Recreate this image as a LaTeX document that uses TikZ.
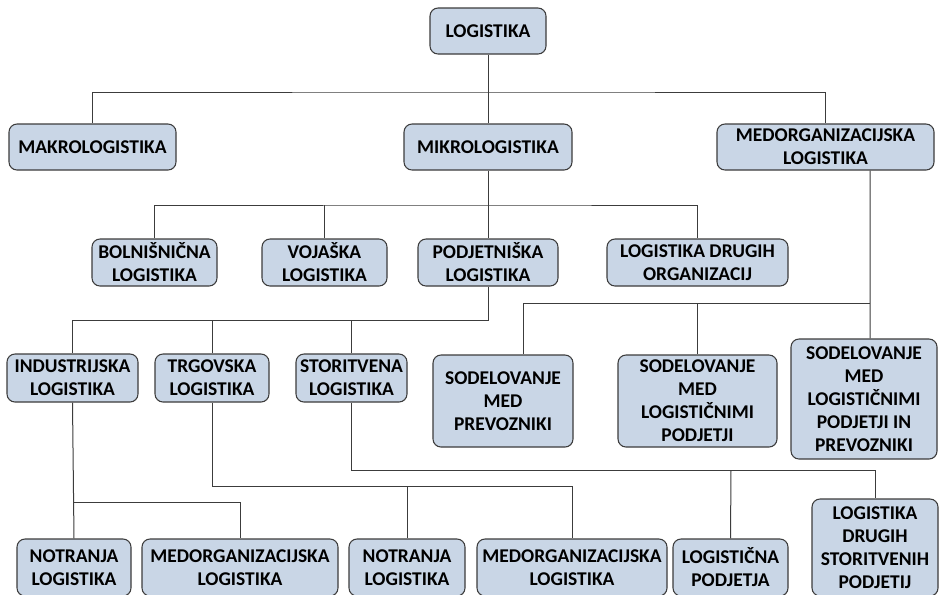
\documentclass[tikz,border=0pt]{standalone}
\usepackage{fontspec}
\setmainfont{Carlito}
\definecolor{boxfill}{RGB}{201,214,230}
\definecolor{edgec}{RGB}{60,60,60}
\tikzset{
  box/.style={draw=edgec, fill=boxfill, rounded corners=6pt, line width=0.8pt,
    align=center, inner sep=0pt, font=\fontsize{14.6}{17.3}\selectfont\bfseries},
  link/.style={draw=edgec, line width=0.75pt}
}
\newcommand\bx[6]{\node[box, minimum width={#4*0.75pt}, minimum height={#5*0.75pt}] (#1) at (#2,#3) {#6};}
\begin{document}
\begin{tikzpicture}[x=0.75pt,y=-0.75pt]
\useasboundingbox (0,0) rectangle (939,594);
\clip (0,0) rectangle (939,594);
\fill[white] (0,0) rectangle (939,594);
% level 0/1
\bx{log}{488}{31}{116}{46}{LOGISTIKA}
\bx{makro}{92.5}{147}{167}{46}{MAKROLOGISTIKA}
\bx{mikro}{488}{147}{168}{46}{MIKROLOGISTIKA}
\bx{medorg}{825.5}{147}{217}{46}{MEDORGANIZACIJSKA\\LOGISTIKA}
% level 2
\bx{bolnis}{154.5}{262.5}{125}{47}{BOLNIŠNIČNA\\LOGISTIKA}
\bx{vojaska}{324.5}{262.5}{125}{47}{VOJAŠKA\\LOGISTIKA}
\bx{podj}{488}{262.5}{140}{47}{PODJETNIŠKA\\LOGISTIKA}
\bx{ldo}{697.5}{262.5}{181}{47}{LOGISTIKA DRUGIH\\ORGANIZACIJ}
% level 3
\bx{indus}{72.5}{378}{131}{48}{INDUSTRIJSKA\\LOGISTIKA}
\bx{trg}{212}{378}{114}{48}{TRGOVSKA\\LOGISTIKA}
\bx{stor}{351.5}{378}{111}{48}{STORITVENA\\LOGISTIKA}
\bx{sodprev}{503}{401}{140}{92}{SODELOVANJE\\MED\\PREVOZNIKI}
\bx{sodlog}{697.5}{401}{159}{92}{SODELOVANJE\\MED\\LOGISTIČNIMI\\PODJETJI}
\bx{sodlogprev}{864}{399}{146}{120}{SODELOVANJE\\MED\\LOGISTIČNIMI\\PODJETJI IN\\PREVOZNIKI}
% level 4
\bx{notr1}{74}{567.5}{114}{57}{NOTRANJA\\LOGISTIKA}
\bx{medorg1}{240}{567.5}{196}{57}{MEDORGANIZACIJSKA\\LOGISTIKA}
\bx{notr2}{407}{567.5}{116}{57}{NOTRANJA\\LOGISTIKA}
\bx{medorg2}{572}{567.5}{190}{57}{MEDORGANIZACIJSKA\\LOGISTIKA}
\bx{logpodj}{730.5}{567.5}{115}{57}{LOGISTIČNA\\PODJETJA}
\bx{ldsp}{875}{547.5}{126}{97}{LOGISTIKA\\DRUGIH\\STORITVENIH\\PODJETIJ}
% junctions
\coordinate (j1) at (488,92);
\coordinate (j2) at (488,205);
\coordinate (j3) at (870,303);
\coordinate (j4) at (488,320);
\coordinate (j5) at (74,502);
\coordinate (j6) at (407,486);
\coordinate (j7) at (731,470);
% connectors
\draw[link] (log) -- (mikro);
\draw[link] (makro.north) |- (j1) -| (medorg.north);
\draw[link] (mikro) -- (podj);
\draw[link] (bolnis.north) |- (j2) -| (ldo.north);
\draw[link] (vojaska.north) -- (vojaska.north |- j2);
\draw[link] ([xshift=33.4pt]medorg.south) -- ([xshift=4.5pt]sodlogprev.north);
\draw[link] ([xshift=15pt]sodprev.north) |- (j3);
\draw[link] (sodlog.north) -- (sodlog.north |- j3);
\draw[link] (podj.south) -- (j4) -| (indus.north);
\draw[link] (trg.north) -- (trg.north |- j4);
\draw[link] (stor.north) -- (stor.north |- j4);
\draw[link] (indus.south) -- (notr1.north);
\draw[link] (j5) -| (medorg1.north);
\draw[link] (trg.south) |- (j6) -| (medorg2.north);
\draw[link] (j6) -- (notr2.north);
\draw[link] (stor.south) |- (j7) -| (ldsp.north);
\draw[link] (j7) -- (logpodj.north);
\end{tikzpicture}
\end{document}
